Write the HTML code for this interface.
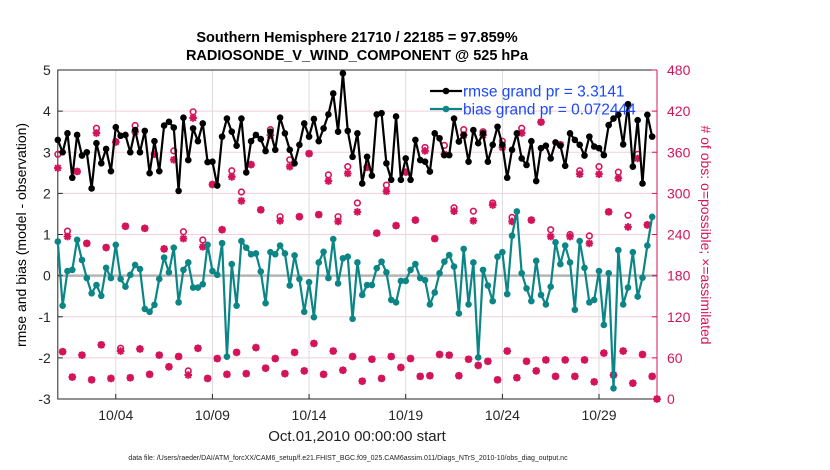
<!DOCTYPE html>
<html><head><meta charset="utf-8"><style>
html,body{margin:0;padding:0;background:#fff;}
svg{display:block;font-family:"Liberation Sans",sans-serif;}
</style></head><body>
<svg id="chart" width="830" height="470" viewBox="0 0 830 470">
<text x="357" y="42" text-anchor="middle" font-size="14.5" font-weight="bold">Southern Hemisphere 21710 / 22185 = 97.859%</text>
<text x="357" y="60" text-anchor="middle" font-size="14.5" font-weight="bold">RADIOSONDE_V_WIND_COMPONENT @ 525 hPa</text>
<text transform="translate(26,235) rotate(-90)" text-anchor="middle" font-size="14">rmse and bias (model - observation)</text>
<text transform="translate(701,235) rotate(90)" text-anchor="middle" font-size="14" fill="#d4145a"># of obs: o=possible; ×=assimilated</text>
<text x="357" y="441" text-anchor="middle" font-size="15" fill="#222">Oct.01,2010 00:00:00 start</text>
<text x="348" y="460" text-anchor="middle" font-size="7" fill="#222">data file: /Users/raeder/DAI/ATM_forcXX/CAM6_setup/f.e21.FHIST_BGC.f09_025.CAM6assim.011/Diags_NTrS_2010-10/obs_diag_output.nc</text>
<g id="plot"></g>
</svg>
<script>
const rmse = [3.30,3.00,3.46,2.38,3.42,2.92,3.00,2.12,3.22,2.73,3.08,2.54,3.61,3.40,3.42,3.00,3.54,3.00,3.52,2.49,3.27,2.54,3.65,3.74,3.60,2.06,3.84,2.81,3.58,3.27,3.70,2.76,
2.77,2.19,3.38,3.82,3.50,3.16,3.82,2.51,3.27,3.42,3.32,3.03,3.50,3.06,3.84,3.46,3.06,2.73,3.18,3.70,3.38,3.81,3.27,3.58,3.92,4.43,3.50,4.92,3.52,2.89,3.46,
2.24,2.89,2.43,3.92,3.95,2.73,2.33,3.87,2.33,2.85,2.33,3.30,2.81,2.77,2.53,3.46,3.34,2.93,2.93,3.82,3.26,3.42,2.77,3.54,3.22,3.46,2.77,3.18,3.62,3.18,2.38,
3.06,3.46,2.85,2.69,3.27,2.30,3.10,3.16,2.85,3.24,3.16,2.67,3.46,3.30,3.18,2.92,3.38,3.14,3.10,2.93,3.66,3.82,3.91,3.19,4.17,2.65,3.78,2.24,3.91,3.38];
const bias = [0.83,-0.73,0.11,0.14,0.87,0.38,-0.06,-0.43,-0.23,-0.49,0.19,-0.06,0.75,-0.08,-0.27,0.02,0.26,0.16,-0.81,-0.88,-0.71,-0.08,0.44,0.08,0.68,-0.65,0.14,0.32,-0.29,-0.29,-0.21,0.75,
0.11,0.02,0.79,-1.97,0.28,-0.73,0.84,0.68,0.52,0.54,0.10,-0.67,0.57,0.52,0.73,0.54,-0.24,0.49,-0.08,-0.88,-0.16,-1.01,0.32,0.58,-0.06,0.89,-0.19,0.42,0.46,-1.05,0.32,
-0.47,-0.23,-0.23,0.18,0.34,0.08,-0.59,-0.65,-0.13,-0.13,0.14,0.28,-0.06,-0.11,-0.70,-0.41,0.06,0.34,0.50,0.22,-0.92,0.65,-0.70,0.32,-1.99,0.14,-0.24,-0.62,0.46,0.57,-0.45,
0.97,1.56,0.06,-0.31,-0.62,0.36,-0.47,-0.70,-0.27,0.81,0.28,0.73,0.32,-0.83,0.84,0.19,-0.65,-0.59,0.11,-1.20,0.06,-2.74,0.62,-0.70,-0.29,0.57,-0.51,-0.05,0.73,1.43];
const possible = [357,69,245,32,332,64,227,28,395,79,221,30,375,74,252,31,399,73,249,36,357,64,219,47,362,62,244,41,419,74,232,30,
313,59,247,36,333,68,302,37,342,75,276,45,393,59,266,37,349,68,266,41,358,81,269,36,327,70,266,42,339,62,286,
26,338,58,242,30,312,62,253,46,331,59,261,33,367,34,234,65,370,64,279,34,393,58,274,49,390,55,286,28,376,70,
265,31,395,55,261,41,404,57,247,33,371,57,240,33,333,57,238,25,339,67,273,35,331,70,268,23,357,65,254,33,0];
const assimilated = [337,69,237,32,332,64,227,28,388,79,221,30,375,70,252,31,390,73,249,36,357,64,219,47,349,62,234,35,410,74,222,30,
313,59,247,36,324,68,289,37,342,75,276,45,385,59,260,37,339,68,266,41,358,81,269,36,318,70,259,42,329,62,273,
26,338,58,242,30,303,62,253,46,331,59,261,33,362,34,234,65,357,64,274,34,385,58,260,49,385,55,283,28,367,70,
259,31,388,55,261,41,404,57,237,33,371,57,237,33,328,57,227,25,328,67,273,35,322,70,251,23,351,65,254,33,0];
const xTickLabels = ["10/04","10/09","10/14","10/19","10/24","10/29"];
const xTickDays = [3,8,13,18,23,28];
const leftTicks = [-3,-2,-1,0,1,2,3,4,5];
const rightTicks = [0,60,120,180,240,300,360,420,480];
const stepDays = 0.25;

const NS="http://www.w3.org/2000/svg";
const g=document.getElementById('plot');
const L=57.8,R=657,T=70,B=399;
const x=d=>L+(d/31)*(R-L);
const yl=v=>B-(v+3)/8*(B-T);
const yr=c=>B-c/480*(B-T);
function mk(tag,attrs,parent){const e=document.createElementNS(NS,tag);for(const k in attrs)e.setAttribute(k,attrs[k]);(parent||g).appendChild(e);return e;}

rightTicks.forEach(c=>{if(c===0||c===480)return;const e=mk('line',{x1:L,x2:R,y1:yr(c),y2:yr(c),stroke:'#f2cfdc','stroke-width':1});

});
xTickDays.forEach(d=>{const e=mk('line',{x1:x(d),x2:x(d),y1:T,y2:B,stroke:'#dcdcdc','stroke-width':1});

});
const zl=mk('line',{x1:L,x2:R,y1:yl(0),y2:yl(0),stroke:'#b4b4b4','stroke-width':2.5});



const ab=mk('path',{d:`M${R},${T}H${L}V${B}H${R}`,fill:'none',stroke:'#262626','stroke-width':1});


const ar=mk('line',{x1:R,x2:R,y1:T,y2:B,stroke:'#d4145a','stroke-width':1});


leftTicks.forEach(v=>{const y=yl(v);mk('line',{x1:L,x2:L+5,y1:y,y2:y,stroke:'#262626'});
const t=mk('text',{x:L-7,y:y+5,'text-anchor':'end','font-size':14,fill:'#262626'});t.textContent=v;

});
rightTicks.forEach(c=>{const y=yr(c);mk('line',{x1:R-5,x2:R,y1:y,y2:y,stroke:'#d4145a'});
const t=mk('text',{x:R+10,y:y+5,'font-size':14,fill:'#d4145a'});t.textContent=c;

});
xTickDays.forEach((d,i)=>{mk('line',{x1:x(d),x2:x(d),y1:B,y2:B-5,stroke:'#262626'});
const t=mk('text',{x:x(d),y:B+21,'text-anchor':'middle','font-size':14,fill:'#262626'});t.textContent=xTickLabels[i];

});

const pc='#d4145a';
possible.forEach((c,i)=>{const cx=x(i*stepDays),cy=yr(c);
const e=mk('circle',{cx:cx,cy:cy,r:2.8,fill:'none',stroke:pc,'stroke-width':1.6});

});
assimilated.forEach((c,i)=>{const cx=x(i*stepDays),cy=yr(c),s=3.8,s2=2.8;
const e=mk('path',{d:`M${cx-s},${cy}H${cx+s}M${cx},${cy-s}V${cy+s}M${cx-s2},${cy-s2}L${cx+s2},${cy+s2}M${cx-s2},${cy+s2}L${cx+s2},${cy-s2}`,stroke:pc,'stroke-width':2,fill:'none'});

});

function series(vals,color,name){
  const pts=vals.map((v,i)=>x(i*stepDays).toFixed(2)+','+yl(v).toFixed(2)).join(' ');
  const pl=mk('polyline',{points:pts,fill:'none',stroke:color,'stroke-width':2.2,'stroke-linejoin':'round'});
  
  
  vals.forEach((v,i)=>{const c=mk('circle',{cx:x(i*stepDays),cy:yl(v),r:3.3,fill:color});
  
  });
}
series(bias,'#0b8585','bias');
series(rmse,'#000000','rmse');

const lg=mk('g',{});


[['#000','rmse grand pr = 3.3141',91],['#0b8585','bias grand pr = 0.072444',109]].forEach((d,i)=>{
  mk('line',{x1:430,x2:462,y1:d[2],y2:d[2],stroke:d[0],'stroke-width':2.2},lg);
  mk('circle',{cx:446,cy:d[2],r:3.3,fill:d[0]},lg);
  const t=mk('text',{x:463,y:d[2]+5.5,'font-size':15.5,fill:'#1a48ff'},lg);t.textContent=d[1];
  
  
});
</script>
</body></html>
